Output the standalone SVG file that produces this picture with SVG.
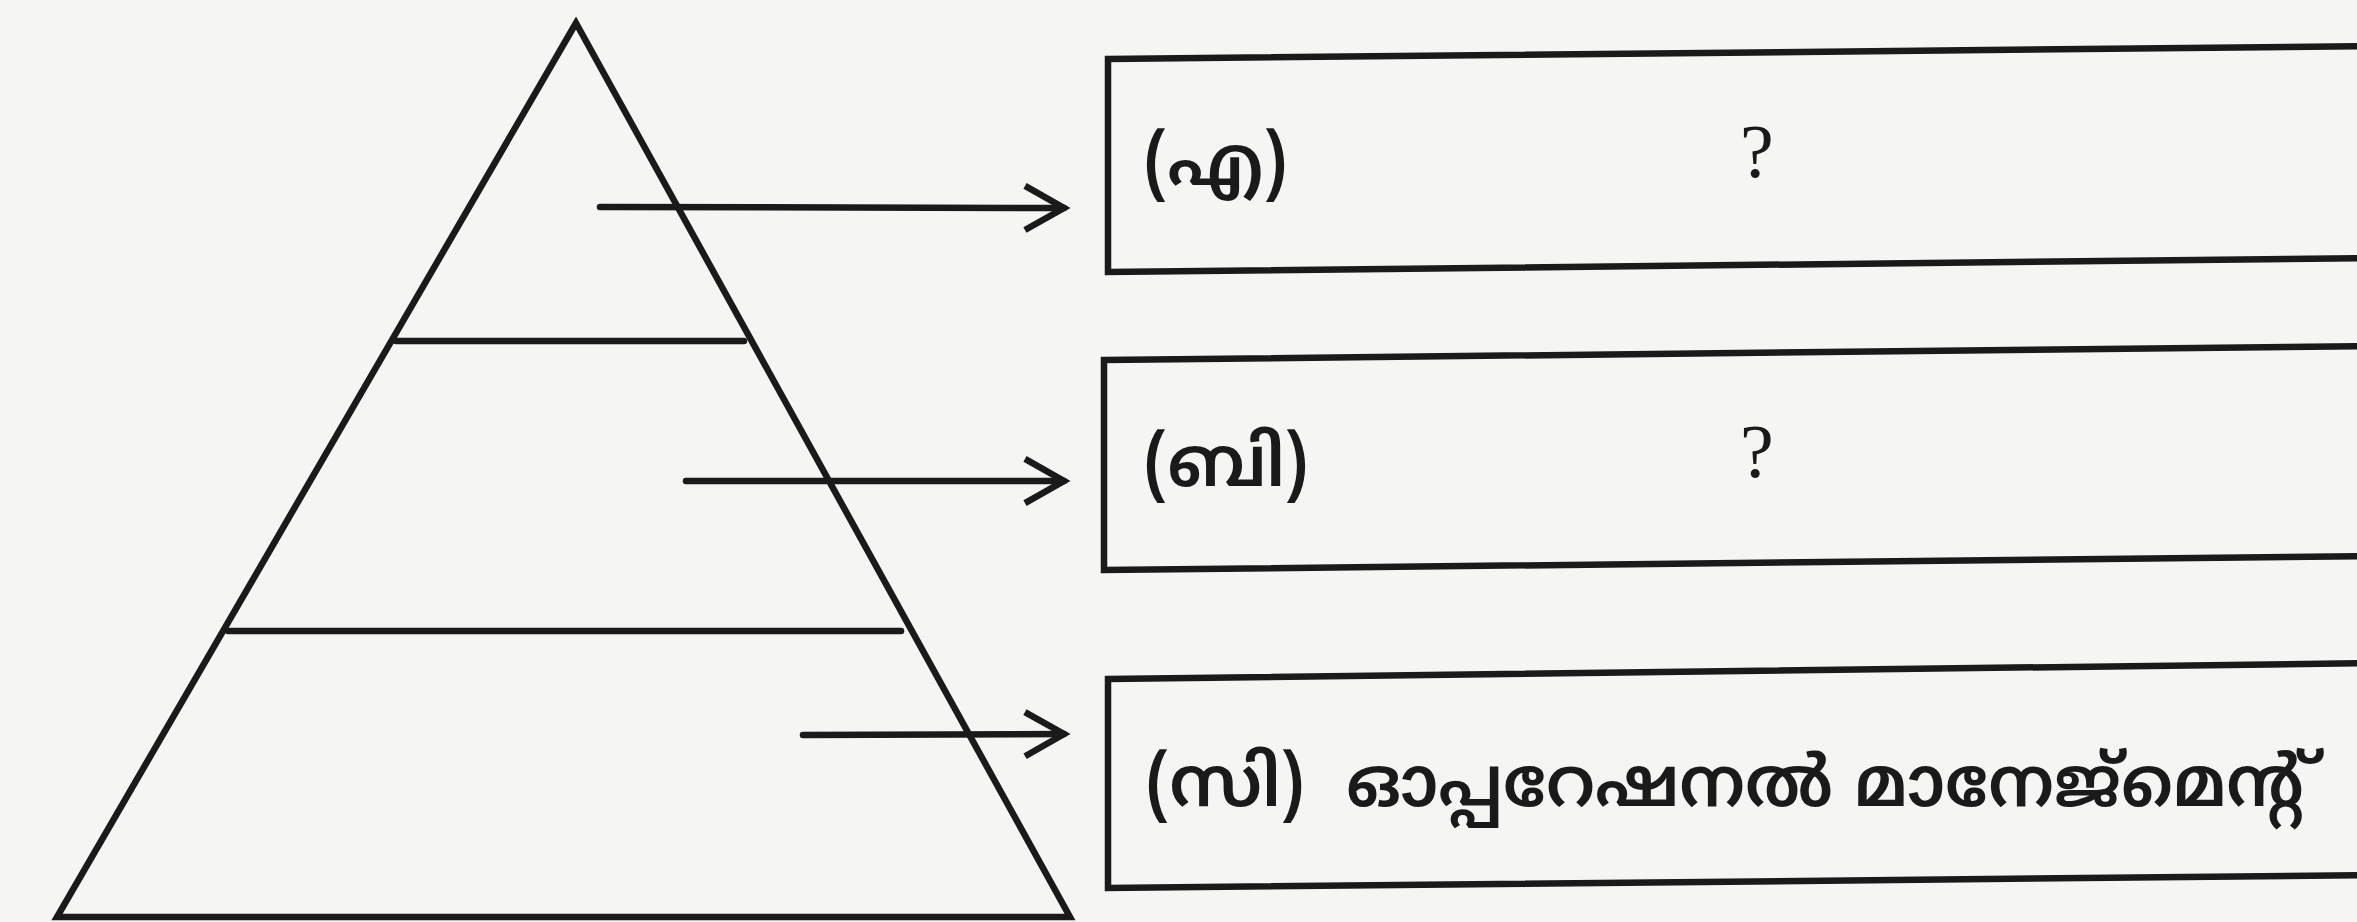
<svg xmlns="http://www.w3.org/2000/svg" width="2357" height="922" viewBox="0 0 2357 922">
<style>
.ln{stroke:#1a1a1a;stroke-width:6.5;fill:none;stroke-linecap:round}
.bx{stroke:#1a1a1a;stroke-width:6.5;fill:none}
.t{font-family:"Noto Sans Malayalam","Noto Sans","Liberation Serif",sans-serif;font-size:70px;font-weight:600;fill:#1a1a1a}
.q{font-family:"Liberation Serif",serif;font-size:76px;fill:#1a1a1a}
</style>
<defs>
<marker id="ah" markerWidth="12" markerHeight="12" refX="10" refY="6" orient="auto" markerUnits="strokeWidth">
<path d="M4,2.6 L10,6 L4,9.4" fill="none" stroke="#1a1a1a" stroke-width="1"/>
</marker>
</defs>
<rect width="2357" height="922" fill="#f5f5f3"/>
<g id="pyramid">
<polygon class="ln" points="576,23 57,917 1070,917"/>
<line class="ln" x1="396" y1="341" x2="744" y2="341"/>
<line class="ln" x1="228" y1="631" x2="901" y2="631"/>
</g>
<g id="connectors">
<line class="ln" x1="600" y1="207" x2="1064" y2="208" marker-end="url(#ah)"/>
<line class="ln" x1="686" y1="481" x2="1064" y2="481" marker-end="url(#ah)"/>
<line class="ln" x1="803" y1="735" x2="1064" y2="734" marker-end="url(#ah)"/>
</g>
<g id="boxA">
<polygon class="bx" points="1108,59 2380,46 2380,258 1108,272"/>
<text class="t" x="1144" y="185" textLength="143" lengthAdjust="spacingAndGlyphs">(എ)</text>
<text class="q" x="1740" y="177">?</text>
</g>
<g id="boxB">
<polygon class="bx" points="1104,360 2380,346 2380,556 1104,570"/>
<text class="t" x="1144" y="486" textLength="164" lengthAdjust="spacingAndGlyphs">(ബി)</text>
<text class="q" x="1740" y="477">?</text>
</g>
<g id="boxC">
<polygon class="bx" points="1108,679 2380,663 2380,875 1108,888"/>
<text class="t" x="1146" y="806" textLength="158" lengthAdjust="spacingAndGlyphs">(സി)</text>
<text class="t" x="1346" y="806" textLength="958" lengthAdjust="spacingAndGlyphs">ഓപ്പറേഷനൽ മാനേജ്മെന്റ്</text>
</g>
</svg>
